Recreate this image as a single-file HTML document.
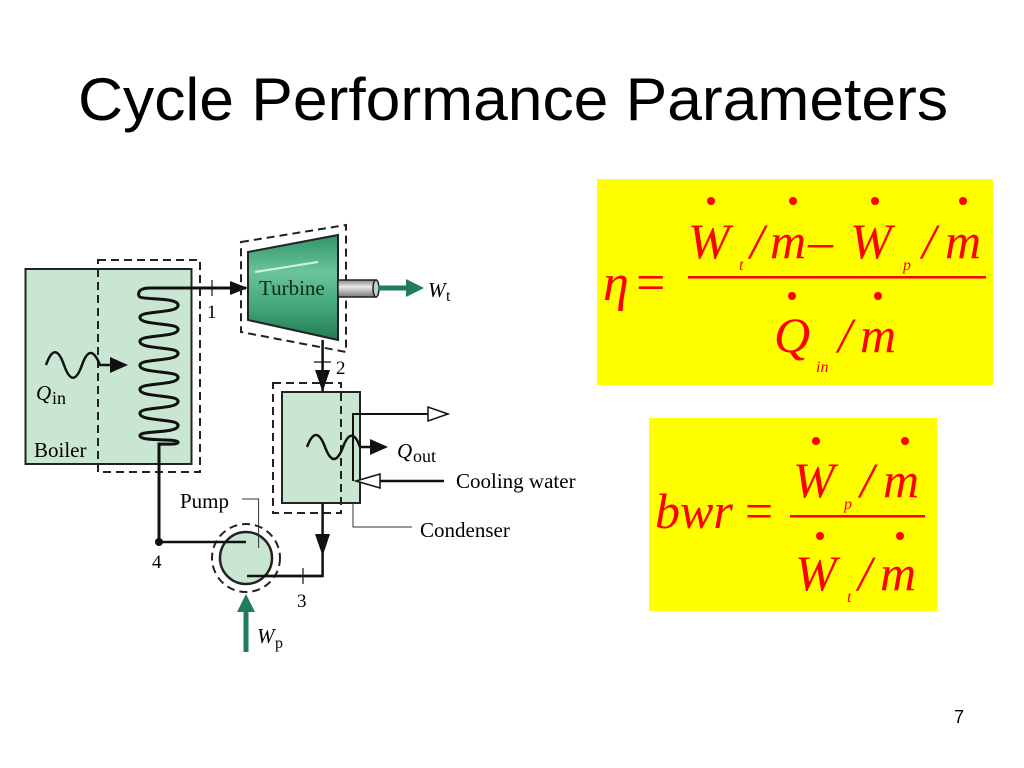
<!DOCTYPE html>
<html><head><meta charset="utf-8"><style>
html,body{margin:0;padding:0;background:#fff;}
svg{display:block;}
</style></head><body>
<svg width="1024" height="768" viewBox="0 0 1024 768" xmlns="http://www.w3.org/2000/svg">
<defs>
<linearGradient id="tg" x1="0" y1="0" x2="0" y2="1">
<stop offset="0" stop-color="#2e9368"/><stop offset="0.35" stop-color="#6cc49a"/><stop offset="0.7" stop-color="#3fa577"/><stop offset="1" stop-color="#247a55"/>
</linearGradient>
<linearGradient id="sg" x1="0" y1="0" x2="0" y2="1">
<stop offset="0" stop-color="#888"/><stop offset="0.4" stop-color="#e8e8e8"/><stop offset="1" stop-color="#777"/>
</linearGradient>
</defs>
<text x="78" y="120" font-family="Liberation Sans, sans-serif" font-size="60" textLength="870" lengthAdjust="spacingAndGlyphs">Cycle Performance Parameters</text>

<!-- Boiler -->
<rect x="25.5" y="269" width="166" height="195" fill="#c8e6d2" stroke="#222" stroke-width="2"/>
<rect x="98" y="260" width="102" height="212" fill="none" stroke="#222" stroke-width="2" stroke-dasharray="8,5"/>
<path d="M 246 288 H 150 C 136 288 138 296 140 297 C 145 300 180 297 178 306 C 176 314 138 310 140 318 C 142 326 180 322 178 330 C 176 338 138 334 140 342 C 142 350 180 346 178 354 C 176 362 138 358 140 366 C 142 374 180 370 178 378 C 176 386 138 382 140 390 C 142 398 180 394 178 402 C 176 410 138 406 140 414 C 142 422 180 418 178 426 C 176 434 138 430 140 436 C 142 442 176 438 178 442 C 179 445 165 444 159 444 V 542" fill="none" stroke="#111" stroke-width="3"/>
<polygon points="248,288 230,281 230,295" fill="#111"/>
<line x1="212" y1="280" x2="212" y2="296" stroke="#111" stroke-width="1.2"/>
<text x="207" y="318" font-family="Liberation Serif, serif" font-size="19">1</text>
<circle cx="159" cy="542" r="4" fill="#111"/>
<text x="152" y="568" font-family="Liberation Serif, serif" font-size="19">4</text>
<!-- Qin -->
<path d="M 46 365 C 52 348 58 348 64 365 C 70 382 76 382 82 365 C 88 348 94 350 100 365 L 110 365" fill="none" stroke="#111" stroke-width="2.5"/>
<polygon points="128,365 110,357 110,373" fill="#111"/>
<text x="36" y="400" font-family="Liberation Serif, serif" font-size="21" font-style="italic">Q</text>
<text x="52" y="404" font-family="Liberation Serif, serif" font-size="18">in</text>
<text x="34" y="457" font-family="Liberation Serif, serif" font-size="21">Boiler</text>

<!-- Turbine -->
<polygon points="241,242 346,225 346,352 241,332" fill="none" stroke="#222" stroke-width="2" stroke-dasharray="8,5"/>
<polygon points="248,252 338,235 338,340 248,320" fill="url(#tg)" stroke="#222" stroke-width="2"/>
<line x1="255" y1="272" x2="318" y2="262" stroke="#d5f2e2" stroke-width="2"/>
<text x="259" y="295" font-family="Liberation Serif, serif" font-size="21" fill="#0a2a1a">Turbine</text>
<rect x="338" y="280" width="38" height="17" fill="url(#sg)" stroke="#222" stroke-width="1.5"/>
<ellipse cx="376" cy="288.5" rx="3" ry="8.5" fill="#ccc" stroke="#222" stroke-width="1.5"/>
<line x1="378" y1="288" x2="410" y2="288" stroke="#1d7d5e" stroke-width="5"/>
<polygon points="424,288 406,279 406,297" fill="#1d7d5e"/>
<text x="428" y="297" font-family="Liberation Serif, serif" font-size="21" font-style="italic">W</text>
<text x="446" y="301" font-family="Liberation Serif, serif" font-size="16">t</text>
<line x1="322.6" y1="340" x2="322.6" y2="392" stroke="#111" stroke-width="2.5"/>
<polygon points="322.6,392 315,370 330,370" fill="#111"/>
<line x1="314" y1="362" x2="331" y2="362" stroke="#111" stroke-width="1.2"/>
<text x="336" y="374" font-family="Liberation Serif, serif" font-size="19">2</text>

<!-- Condenser -->
<rect x="282" y="392" width="78" height="111" fill="#c8e6d2" stroke="#222" stroke-width="2"/>
<rect x="273" y="383" width="68" height="130" fill="none" stroke="#222" stroke-width="2" stroke-dasharray="8,5"/>
<path d="M 353 481 V 414 H 428" fill="none" stroke="#111" stroke-width="2"/>
<polygon points="448,414 428,407 428,421" fill="#fff" stroke="#111" stroke-width="1.5"/>
<line x1="444" y1="481" x2="380" y2="481" stroke="#111" stroke-width="2.5"/>
<polygon points="356,481 380,474 380,488" fill="#fff" stroke="#111" stroke-width="1.5"/>
<text x="456" y="488" font-family="Liberation Serif, serif" font-size="21">Cooling water</text>
<path d="M 307 447 C 313 431 319 431 325 447 C 331 463 337 463 343 447 C 349 431 355 433 360 447 L 370 447" fill="none" stroke="#111" stroke-width="2.5"/>
<polygon points="388,447 370,439 370,455" fill="#111"/>
<text x="397" y="458" font-family="Liberation Serif, serif" font-size="21" font-style="italic">Q</text>
<text x="413" y="462" font-family="Liberation Serif, serif" font-size="18">out</text>
<path d="M 353 503 V 527 H 412" fill="none" stroke="#333" stroke-width="1"/>
<text x="420" y="537" font-family="Liberation Serif, serif" font-size="21">Condenser</text>
<path d="M 322.6 503 V 576 H 247" fill="none" stroke="#111" stroke-width="2.5"/>
<polygon points="322.6,556 315,534 330,534" fill="#111"/>
<line x1="303" y1="568" x2="303" y2="584" stroke="#111" stroke-width="1.2"/>
<text x="297" y="607" font-family="Liberation Serif, serif" font-size="19">3</text>

<!-- Pump -->
<circle cx="246" cy="558" r="34" fill="none" stroke="#222" stroke-width="2" stroke-dasharray="8,5"/>
<circle cx="246" cy="558" r="26" fill="#c8e6d2" stroke="#222" stroke-width="2.5"/>
<line x1="159" y1="542" x2="246" y2="542" stroke="#111" stroke-width="2.5"/>
<line x1="247" y1="576" x2="322" y2="576" stroke="#111" stroke-width="2.5"/>
<path d="M 258.6 548 V 499 H 242" fill="none" stroke="#333" stroke-width="1"/>
<text x="180" y="508" font-family="Liberation Serif, serif" font-size="21">Pump</text>
<line x1="246" y1="652" x2="246" y2="608" stroke="#1d7d5e" stroke-width="5"/>
<polygon points="246,594 237,612 255,612" fill="#1d7d5e"/>
<text x="257" y="643" font-family="Liberation Serif, serif" font-size="21" font-style="italic">W</text>
<text x="275" y="648" font-family="Liberation Serif, serif" font-size="16">p</text>

<!-- Equation 1 -->
<rect x="597" y="179" width="396" height="206" fill="#ffff00"/>
<g fill="#ff0000" font-family="Liberation Serif, serif" font-style="italic">
<text x="603" y="300" font-size="52">η</text>
<text x="636" y="300" font-size="52" font-style="normal">=</text>
<rect x="688" y="276" width="298" height="2.5"/>
<text x="688" y="258" font-size="50">W</text>
<text x="739" y="270" font-size="16">t</text>
<text x="750" y="258" font-size="50">/</text>
<text x="770" y="258" font-size="50">m</text>
<text x="808" y="258" font-size="50" font-style="normal">–</text>
<text x="850" y="258" font-size="50">W</text>
<text x="903" y="270" font-size="16">p</text>
<text x="922" y="258" font-size="50">/</text>
<text x="945" y="258" font-size="50">m</text>
<text x="774" y="352" font-size="50">Q</text>
<text x="816" y="372" font-size="16">in</text>
<text x="838" y="352" font-size="50">/</text>
<text x="860" y="352" font-size="50">m</text>
<circle cx="711" cy="201" r="4"/><circle cx="793" cy="201" r="4"/><circle cx="875" cy="201" r="4"/><circle cx="963" cy="201" r="4"/>
<circle cx="792" cy="296" r="4"/><circle cx="878" cy="296" r="4"/>
</g>

<!-- Equation 2 -->
<rect x="649" y="418" width="288" height="193" fill="#ffff00"/>
<g fill="#ff0000" font-family="Liberation Serif, serif" font-style="italic">
<text x="655" y="528" font-size="50">bwr</text>
<text x="745" y="528" font-size="50" font-style="normal">=</text>
<rect x="790" y="515" width="135" height="2.5"/>
<text x="793" y="497" font-size="50">W</text>
<text x="844" y="509" font-size="16">p</text>
<text x="860" y="497" font-size="50">/</text>
<text x="883" y="497" font-size="50">m</text>
<text x="795" y="590" font-size="50">W</text>
<text x="847" y="602" font-size="16">t</text>
<text x="858" y="590" font-size="50">/</text>
<text x="880" y="590" font-size="50">m</text>
<circle cx="816" cy="441" r="4"/><circle cx="905" cy="441" r="4"/>
<circle cx="820" cy="536" r="4"/><circle cx="900" cy="536" r="4"/>
</g>

<text x="954" y="723" font-family="Liberation Sans, sans-serif" font-size="18">7</text>
</svg>
</body></html>
